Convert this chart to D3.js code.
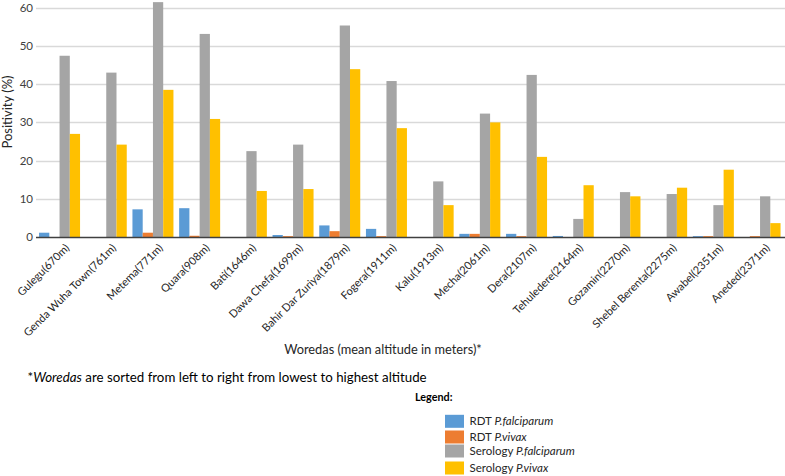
<!DOCTYPE html>
<html>
<head>
<meta charset="utf-8">
<script src="https://cdn.jsdelivr.net/npm/d3@7"></script>
<style>
  html, body { margin: 0; padding: 0; background: #fff; }
  svg { display: block; font-family: Lato, "Open Sans", sans-serif; }
</style>
</head>
<body>
<svg id="chart" width="785" height="476"></svg>
<script>
const categories = ["Gulegu(670m)", "Genda Wuha Town(761m)", "Metema(771m)", "Quara(908m)", "Bati(1646m)",
  "Dawa Chefa(1699m)", "Bahir Dar Zuriya(1879m)", "Fogera(1911m)", "Kalu(1913m)", "Mecha(2061m)",
  "Dera(2107m)", "Tehuledere(2164m)", "Gozamin(2270m)", "Shebel Berenta(2275m)", "Awabel(2351m)", "Aneded(2371m)"];
const rdtPf  = [1.2, 0, 7.3, 7.6, 0, 0.6, 3.1, 2.2, 0, 0.9, 0.9, 0.35, 0, 0, 0.3, 0];
const rdtPv  = [0, 0, 1.2, 0.4, 0, 0.3, 1.6, 0.3, 0, 0.9, 0.3, 0, 0, 0, 0.3, 0.3];
const seroPf = [47.4, 43.0, 61.4, 53.1, 22.5, 24.2, 55.3, 40.8, 14.6, 32.3, 42.4, 4.8, 11.8, 11.3, 8.4, 10.7];
const seroPv = [27.0, 24.2, 38.5, 30.9, 12.1, 12.6, 43.9, 28.5, 8.4, 30.0, 21.0, 13.6, 10.7, 12.95, 17.65, 3.7];
const yTicks = [0, 10, 20, 30, 40, 50, 60];
const seriesNames = ["RDT", "RDT", "Serology", "Serology"];
const seriesSpecies = ["P.falciparum", "P.vivax", "P.falciparum", "P.vivax"];
const seriesColors = ["#5B9BD5", "#ED7D31", "#A5A5A5", "#FFC000"];
const seriesValues = [rdtPf, rdtPv, seroPf, seroPv];

const svg = d3.select("#chart");
const x0 = d3.scaleBand().domain(categories).range([36.2, 783.4]).padding(0);
const x1 = d3.scaleBand().domain(d3.range(4)).range([2.85, x0.bandwidth() - 2.85]).padding(0);
const y = d3.scaleLinear().domain([0, 60]).range([237.3, 7.5]);

// gridlines
svg.append("g").selectAll("line").data(yTicks.filter(d => d > 0)).join("line")
  .attr("x1", 36).attr("x2", 785)
  .attr("y1", d => Math.round(y(d)) + 0.5).attr("y2", d => Math.round(y(d)) + 0.5)
  .attr("stroke", "#D9D9D9").attr("stroke-width", 1.3);

// y tick labels
svg.append("g").selectAll("text").data(yTicks).join("text")
  .attr("x", 33).attr("y", d => y(d)).attr("dy", "0.35em")
  .attr("text-anchor", "end").attr("font-size", 11.5).attr("fill", "#404040")
  .text(d => d);

// bars
const groups = svg.append("g").selectAll("g").data(categories).join("g")
  .attr("transform", d => `translate(${x0(d)},0)`);
groups.selectAll("rect").data((d, i) => seriesValues.map((vals, s) => ({ s, v: vals[i] }))).join("rect")
  .filter(d => d.v > 0)
  .attr("x", d => x1(d.s)).attr("width", x1.bandwidth())
  .attr("y", d => y(d.v)).attr("height", d => y(0) - y(d.v))
  .attr("fill", d => seriesColors[d.s]);

// x axis line
svg.append("line").attr("x1", 36).attr("x2", 785).attr("y1", y(0) + 0.3).attr("y2", y(0) + 0.3)
  .attr("stroke", "#404040").attr("stroke-width", 1.5);

// x tick labels
svg.append("g").selectAll("text").data(categories).join("text")
  .attr("transform", d => `translate(${x0(d) + x0.bandwidth() / 2 + 5},243) rotate(-45)`)
  .attr("text-anchor", "end").attr("dy", "0.72em")
  .attr("font-size", 11).attr("fill", "#262626")
  .text(d => d);

// y axis title
svg.append("text").attr("transform", "translate(12,112) rotate(-90)")
  .attr("text-anchor", "middle").attr("font-size", 13).attr("fill", "#262626")
  .text("Positivity (%)");

// x axis title
svg.append("text").attr("x", 383).attr("y", 354).attr("text-anchor", "middle")
  .attr("font-size", 12.8).attr("fill", "#262626")
  .text("Woredas (mean altitude in meters)*");

// footnote
const fn = svg.append("text").attr("x", 27.5).attr("y", 381.5).attr("font-size", 13.3).attr("fill", "#000");
fn.append("tspan").text("*");
fn.append("tspan").attr("font-style", "italic").text("Woredas");
fn.append("tspan").text(" are sorted from left to right from lowest to highest altitude");

// legend
svg.append("text").attr("x", 415).attr("y", 401).attr("font-size", 10.8).attr("font-weight", "bold")
  .attr("fill", "#000").text("Legend:");
const legY = [421.3, 437, 451, 468];
const leg = svg.append("g").selectAll("g").data(d3.range(4)).join("g")
  .attr("transform", i => `translate(445,${legY[i]})`);
leg.append("rect").attr("x", 0).attr("y", -6.5).attr("width", 19).attr("height", 13)
  .attr("fill", i => seriesColors[i]);
const lt = leg.append("text").attr("x", 24.5).attr("dy", "0.35em").attr("font-size", 11.5).attr("fill", "#262626");
lt.append("tspan").text(i => seriesNames[i] + " ");
lt.append("tspan").attr("font-style", "italic").text(i => seriesSpecies[i]);
</script>
</body>
</html>
